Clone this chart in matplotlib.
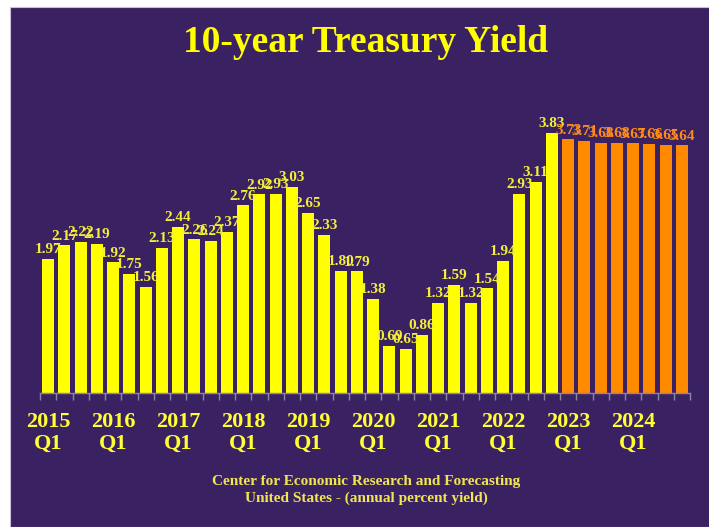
import matplotlib
matplotlib.use("Agg")
import matplotlib.pyplot as plt
from matplotlib.patches import Rectangle

years = ["2015", "2016", "2017", "2018", "2019", "2020", "2021", "2022", "2023", "2024"]
actual = [1.97, 2.17, 2.22, 2.19,
          1.92, 1.75, 1.56, 2.13,
          2.44, 2.26, 2.24, 2.37,
          2.76, 2.92, 2.93, 3.03,
          2.65, 2.33, 1.80, 1.79,
          1.38, 0.69, 0.65, 0.86,
          1.32, 1.59, 1.32, 1.54,
          1.94, 2.93, 3.11, 3.83]
forecast = [3.73, 3.71, 3.68, 3.68,
            3.67, 3.66, 3.65, 3.64]

W, H = 709, 527
fig = plt.figure(figsize=(W / 100, H / 100), dpi=100)
fig.patch.set_facecolor("white")
bg = "#3a2262"
fig.patches.append(Rectangle((10 / W, 0), 1, 1 - 7 / H, transform=fig.transFigure,
                             facecolor=bg, edgecolor="#c8c0d8", lw=0.8, zorder=-10))

ax = fig.add_axes([40 / W, 1 - 393 / H, 650 / W, 306 / H])
ax.set_facecolor("none")
ax.set_zorder(1)

font = "Liberation Serif"
yellow = "#ffff00"
orange = "#ff8a00"
ylab = "#f2ee3a"
olab = "#ff8c1a"

n_act = len(actual)
xa = list(range(n_act))
xf = list(range(n_act, n_act + len(forecast)))
ax.bar(xa, actual, width=0.74, color=yellow, zorder=2)
ax.bar(xf, forecast, width=0.74, color=orange, zorder=2)

for x, v in zip(xa, actual):
    ax.annotate(f"{v:.2f}", (x, v), xytext=(0, 2), textcoords="offset points",
                ha="center", va="bottom", color=ylab, fontsize=11,
                fontweight="bold", family=font, zorder=3)
for x, v in zip(xf, forecast):
    ax.annotate(f"{v:.2f}", (x, v), xytext=(0, 2), textcoords="offset points",
                ha="center", va="bottom", color=olab, fontsize=11,
                fontweight="bold", family=font, zorder=3)

total = n_act + len(forecast)
ax.set_xlim(-0.5, total - 0.5)
ax.set_ylim(0, 4.5)
ax.set_yticks([])
for s in ["top", "left", "right"]:
    ax.spines[s].set_visible(False)
ax.spines["bottom"].set_color("#8a84a8")
ax.spines["bottom"].set_linewidth(1)

ax.set_xticks([i * 4 for i in range(len(years))])
ax.set_xticklabels([f"{y}\nQ1" for y in years], color="#ffff33", fontsize=16,
                   fontweight="bold", family=font, linespacing=1.1)
ax.tick_params(axis="x", which="major", length=0, pad=14)
ax.set_xticks([i - 0.5 for i in range(total + 1)], minor=True)
ax.tick_params(axis="x", which="minor", length=5, color="#8a84a8", width=1)

fig.text(0.5155, 1 - 42 / H, "10-year Treasury Yield", ha="center", va="center",
         color="#ffff00", fontsize=27, fontweight="bold", family=font)
fig.text(0.517, 1 - 482 / H, "Center for Economic Research and Forecasting",
         ha="center", va="center", color="#f0e650", fontsize=11,
         fontweight="bold", family=font)
fig.text(0.517, 1 - 498 / H, "United States - (annual percent yield)",
         ha="center", va="center", color="#f0e650", fontsize=11,
         fontweight="bold", family=font)

fig.savefig("out.png", dpi=100, facecolor=fig.get_facecolor())
